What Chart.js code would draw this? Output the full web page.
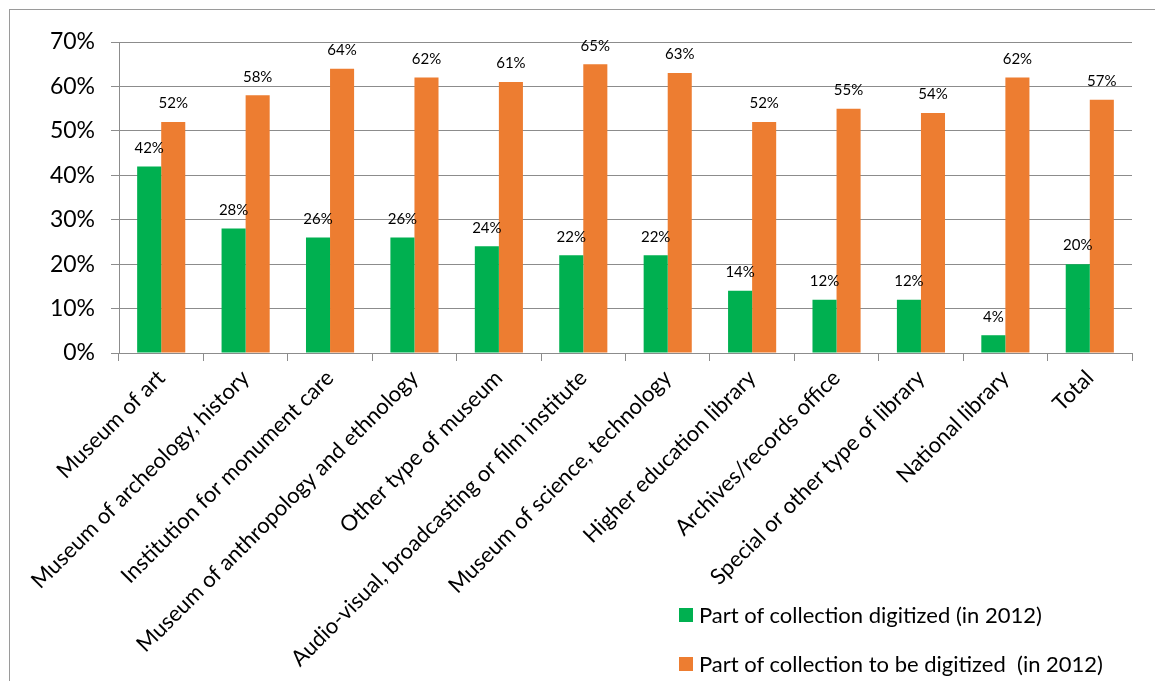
<!DOCTYPE html>
<html>
<head>
<meta charset="utf-8">
<script src="https://cdn.jsdelivr.net/npm/chart.js@4/dist/chart.umd.min.js"></script>
<style>
  html, body { margin: 0; padding: 0; background: #fff; }
  #wrap { position: relative; width: 1155px; height: 681px; overflow: hidden; }
  #legend { position: absolute; left: 679px; top: 590px; font-family: Lato, sans-serif; font-size: 22px; color: #000; }
  #legend .item { display: flex; align-items: center; height: 49px; white-space: pre; }
  #legend .box { width: 14px; height: 14px; margin-right: 6px; }
</style>
</head>
<body>
<div id="wrap">
  <canvas id="digitChart" width="1155" height="681"></canvas>
  <div id="legend"></div>
</div>
<script>
const categories = [
  'Museum of art',
  'Museum of archeology, history',
  'Institution for monument care',
  'Museum of anthropology and ethnology',
  'Other type of museum',
  'Audio-visual, broadcasting or film institute',
  'Museum of science, technology',
  'Higher education library',
  'Archives/records office',
  'Special or other type of library',
  'National library',
  'Total'
];
const digitized = [42, 28, 26, 26, 24, 22, 22, 14, 12, 12, 4, 20];
const toBeDigitized = [52, 58, 64, 62, 61, 65, 63, 52, 55, 54, 62, 57];
const yTicks = [0, 10, 20, 30, 40, 50, 60, 70];

const GREEN = '#00b050';
const ORANGE = '#ed7d31';
const GRID = '#8c8c8c';

// value labels above every bar
const barLabels = {
  id: 'barLabels',
  afterDatasetsDraw(chart) {
    const ctx = chart.ctx;
    ctx.save();
    ctx.font = '15px Lato, sans-serif';
    ctx.fillStyle = '#000';
    ctx.textAlign = 'center';
    ctx.textBaseline = 'bottom';
    chart.data.datasets.forEach((ds, i) => {
      chart.getDatasetMeta(i).data.forEach((bar, j) => {
        ctx.fillText(ds.data[j] + '%', bar.x, bar.y - 11);
      });
    });
    ctx.restore();
  }
};

// thin frame around the whole chart
const frame = {
  id: 'frame',
  beforeDraw(chart) {
    const ctx = chart.ctx;
    ctx.save();
    ctx.strokeStyle = '#9a9a9a';
    ctx.lineWidth = 1;
    ctx.strokeRect(9.5, 9.5, 1300, 800);
    ctx.restore();
  }
};

const chart = new Chart(document.getElementById('digitChart'), {
  type: 'bar',
  data: {
    labels: categories,
    datasets: [
      { label: 'Part of collection digitized (in 2012)', data: digitized, backgroundColor: GREEN },
      { label: 'Part of collection to be digitized  (in 2012)', data: toBeDigitized, backgroundColor: ORANGE }
    ]
  },
  options: {
    responsive: false,
    animation: false,
    categoryPercentage: 0.57,
    barPercentage: 1,
    layout: { padding: { left: 0, top: 42, right: 23, bottom: 0 } },
    plugins: {
      legend: { display: false },
      tooltip: { enabled: false }
    },
    scales: {
      x: {
        grid: { drawOnChartArea: false, color: GRID, tickLength: 8, offset: true },
        border: { color: GRID },
        ticks: {
          color: '#000',
          font: { family: 'Lato, sans-serif', size: 22 },
          minRotation: 45,
          maxRotation: 45,
          autoSkip: false,
          padding: 4
        },
        afterFit(scale) { scale.height = 328; }
      },
      y: {
        min: 0,
        max: 70,
        afterBuildTicks(scale) { scale.ticks = yTicks.map(v => ({ value: v })); },
        grid: { color: GRID, tickLength: 8 },
        border: { color: GRID },
        ticks: {
          color: '#000',
          font: { family: 'Lato, sans-serif', size: 23 },
          padding: 16,
          callback: v => v + '%'
        },
        afterFit(scale) { scale.width = 119; }
      }
    }
  },
  plugins: [barLabels, frame]
});

// legend drawn as html, sitting in the lower right corner
const legendEl = document.getElementById('legend');
chart.data.datasets.forEach(ds => {
  const item = document.createElement('div');
  item.className = 'item';
  const box = document.createElement('span');
  box.className = 'box';
  box.style.background = ds.backgroundColor;
  const txt = document.createElement('span');
  txt.textContent = ds.label;
  item.appendChild(box);
  item.appendChild(txt);
  legendEl.appendChild(item);
});
</script>
</body>
</html>
